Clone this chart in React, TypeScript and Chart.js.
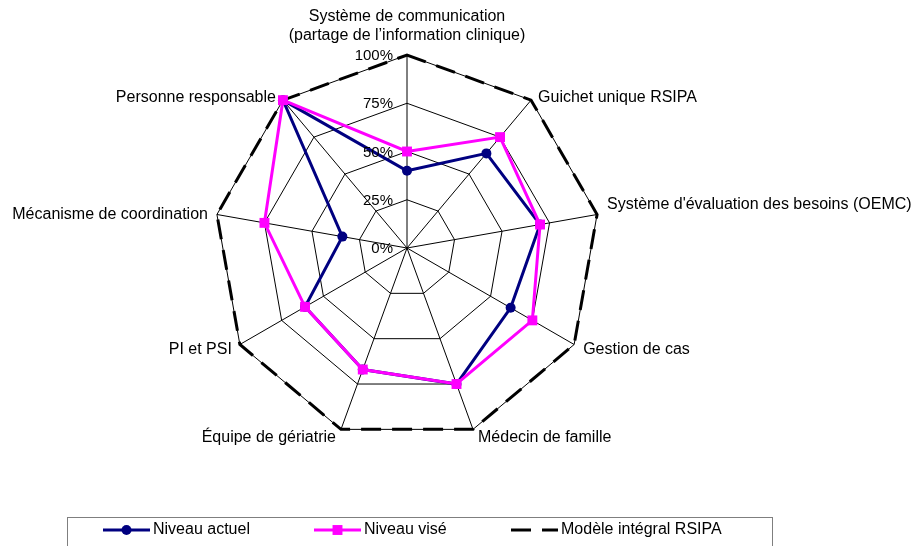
import React, { useEffect, useRef } from "react";
import { Chart, registerables } from "chart.js";

Chart.register(...registerables);

// ---- data ----
const categories: (string | string[])[] = [
  ["Système de communication", "(partage de l’information clinique)"],
  "Guichet unique RSIPA",
  "Système d'évaluation des besoins (OEMC)",
  "Gestion de cas",
  "Médecin de famille",
  "Équipe de gériatrie",
  "PI et PSI",
  "Mécanisme de coordination",
  "Personne responsable",
];
const niveauActuel = [40, 64, 70, 62, 75, 67, 61, 34, 100];
const niveauVise = [50, 75, 70, 75, 75, 67, 61, 75, 100];
const modeleIntegral = [100, 100, 100, 100, 100, 100, 100, 100, 100];
const tickValues = [0, 25, 50, 75, 100];
const tickLabels = ["0%", "25%", "50%", "75%", "100%"];
const seriesNames = ["Niveau actuel", "Niveau visé", "Modèle intégral RSIPA"];

// ---- layout / style ----
const W = 913;
const H = 546;
const CX = 407;
const CY = 248;
const RADIUS = 193;
const FONT = '"Liberation Sans", Arial, Helvetica, sans-serif';
const NAVY = "#000080";
const PINK = "#FF00FF";
const labelDx = [0, 7, 10, 9, 5, 5, 8, 9, 7];
const labelDy = [0, -3, -10, 5.5, 8, 8, 5.5, 0, -3];

const overlayPlugin = {
  id: "overlay",
  afterDraw(chart: any) {
    const ctx: CanvasRenderingContext2D = chart.ctx;
    const scale = chart.scales.r;
    ctx.save();
    ctx.fillStyle = "#000";

    // tick labels
    ctx.font = `15px ${FONT}`;
    ctx.textAlign = "right";
    ctx.textBaseline = "middle";
    tickValues.forEach((v, i) => {
      const d = scale.getDistanceFromCenterForValue(v);
      ctx.fillText(tickLabels[i], scale.xCenter - 14, scale.yCenter - d + 1);
    });

    // point labels
    ctx.font = `16px ${FONT}`;
    categories.forEach((lab, i) => {
      const p = scale.getPointPosition(i, scale.drawingArea);
      if (Array.isArray(lab)) {
        ctx.textAlign = "center";
        const n = lab.length;
        lab.forEach((line, k) => {
          ctx.fillText(line, p.x, p.y - 19 * (n - k));
        });
        return;
      }
      const angle = (360 / categories.length) * i;
      if (angle < 180) {
        ctx.textAlign = "left";
        ctx.fillText(lab, p.x + labelDx[i], p.y + labelDy[i]);
      } else {
        ctx.textAlign = "right";
        ctx.fillText(lab, p.x - labelDx[i], p.y + labelDy[i]);
      }
    });

    // legend
    const lx = 67.5;
    const ly = 517.5;
    ctx.strokeStyle = "#7f7f7f";
    ctx.lineWidth = 1;
    ctx.strokeRect(lx, ly, 705, 60);
    const ds = chart.data.datasets;
    const itemX = [103, 314, 511];
    const y = 530;
    ctx.font = `16px ${FONT}`;
    ctx.textAlign = "left";
    ctx.textBaseline = "middle";
    ds.forEach((d: any, i: number) => {
      const x0 = itemX[i];
      const x1 = x0 + 47;
      ctx.save();
      ctx.strokeStyle = d.borderColor;
      ctx.lineWidth = d.borderWidth;
      ctx.setLineDash(d.borderDash || []);
      ctx.beginPath();
      ctx.moveTo(x0, y);
      ctx.lineTo(x1, y);
      ctx.stroke();
      ctx.restore();
      const mx = (x0 + x1) / 2;
      ctx.fillStyle = d.pointBackgroundColor || d.borderColor;
      if (d.pointStyle === "circle" && d.pointRadius > 0) {
        ctx.beginPath();
        ctx.arc(mx, y, d.pointRadius, 0, Math.PI * 2);
        ctx.fill();
      } else if (d.pointStyle === "rect" && d.pointRadius > 0) {
        const s = Math.SQRT1_2 * d.pointRadius;
        ctx.fillRect(mx - s, y - s, 2 * s, 2 * s);
      }
      ctx.fillStyle = "#000";
      ctx.fillText(d.label, x1 + 3, y);
    });
    ctx.restore();
  },
};

export default function App() {
  const ref = useRef<HTMLCanvasElement | null>(null);

  useEffect(() => {
    if (!ref.current) return;
    const chart = new Chart(ref.current, {
      type: "radar",
      data: {
        labels: categories as any,
        datasets: [
          {
            label: seriesNames[0],
            data: niveauActuel,
            borderColor: NAVY,
            backgroundColor: NAVY,
            pointBackgroundColor: NAVY,
            pointBorderColor: NAVY,
            borderWidth: 3,
            pointStyle: "circle",
            pointRadius: 5,
            pointBorderWidth: 0,
            fill: false,
            order: 1,
          },
          {
            label: seriesNames[1],
            data: niveauVise,
            borderColor: PINK,
            backgroundColor: PINK,
            pointBackgroundColor: PINK,
            pointBorderColor: PINK,
            borderWidth: 3,
            pointStyle: "rect",
            pointRadius: 7,
            pointBorderWidth: 0,
            fill: false,
            order: 0,
          },
          {
            label: seriesNames[2],
            data: modeleIntegral,
            borderColor: "#000000",
            backgroundColor: "#000000",
            borderWidth: 3,
            borderDash: [20, 11],
            pointRadius: 0,
            pointStyle: "line",
            fill: false,
            order: 2,
          },
        ] as any,
      },
      options: {
        responsive: false,
        animation: false,
        events: [],
        layout: { padding: 0 },
        plugins: {
          legend: { display: false },
          tooltip: { enabled: false },
          title: { display: false },
        },
        elements: { line: { tension: 0 } },
        scales: {
          r: {
            min: 0,
            max: 100,
            beginAtZero: true,
            ticks: { stepSize: 25, display: false },
            grid: { color: "#000", lineWidth: 1 },
            angleLines: { color: "#000", lineWidth: 1 },
            pointLabels: { display: false },
            afterFit: (scale: any) => {
              scale.xCenter = CX;
              scale.yCenter = CY;
              scale.drawingArea = RADIUS;
            },
          } as any,
        },
      },
      plugins: [overlayPlugin],
    });
    return () => chart.destroy();
  }, []);

  return (
    <div style={{ position: "fixed", left: 0, top: 0, width: W, height: H, background: "#fff" }}>
      <canvas ref={ref} width={W} height={H} style={{ display: "block", width: W, height: H }} />
    </div>
  );
}
